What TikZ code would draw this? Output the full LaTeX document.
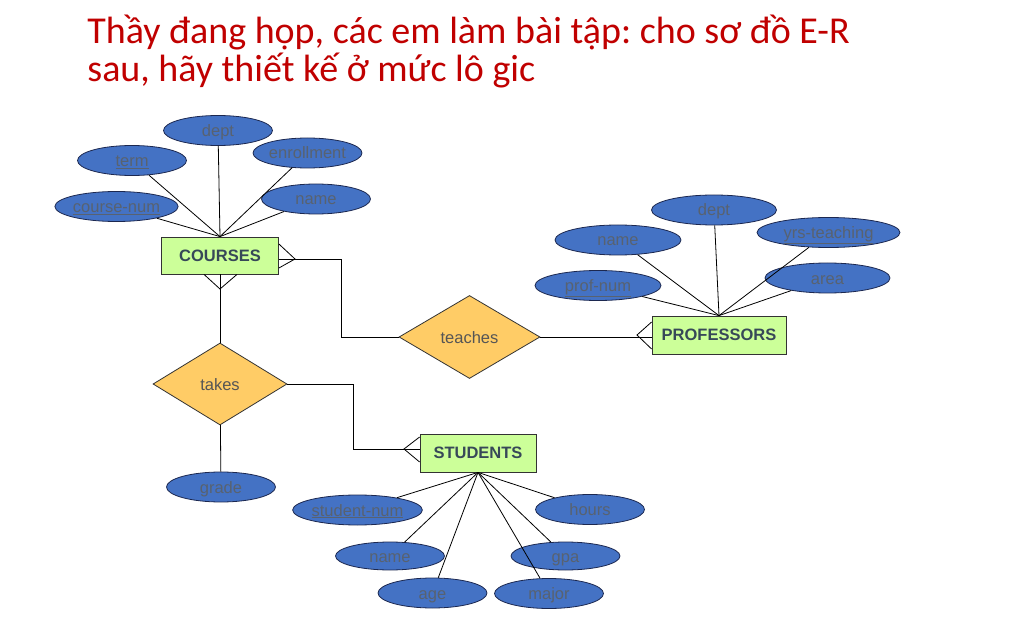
\documentclass[tikz,border=0pt]{standalone}
\usepackage{fontspec}
\setmainfont{Liberation Sans}
\newfontfamily\titlefont{Carlito}
\usetikzlibrary{shapes.geometric}
\definecolor{titlered}{RGB}{192,0,0}
\definecolor{attrblue}{RGB}{68,114,196}
\definecolor{attrline}{RGB}{28,40,80}
\definecolor{attrtext}{RGB}{88,98,112}
\definecolor{entgreen}{RGB}{204,255,153}
\definecolor{enttext}{RGB}{55,72,88}
\definecolor{relorange}{RGB}{255,204,102}
\definecolor{reltext}{RGB}{85,85,85}
\frenchspacing
\begin{document}
\begin{tikzpicture}[x=1pt, y=-1pt, line width=0.8pt,
    every node/.style={font=\fontsize{16.5}{19}\selectfont},
    attr/.style={ellipse, draw=attrline, fill=attrblue, text=attrtext, inner sep=0pt, text height=12pt, text depth=0pt, minimum width=109pt, minimum height=30pt},
    entity/.style={rectangle, draw=black!80, fill=entgreen, text=enttext, inner sep=0pt, minimum width=117pt, minimum height=37pt, font=\fontsize{16.5}{19}\selectfont\bfseries},
    rel/.style={diamond, draw=black!80, fill=relorange, text=reltext, inner sep=0pt, text height=12pt, text depth=0pt, minimum width=134pt, minimum height=82pt},
    title/.style={anchor=base west, inner sep=0pt, text=titlered, font=\titlefont\fontsize{38}{38}\selectfont}]
    \useasboundingbox (0,0) rectangle (1026,639);
    % title
    \node[title] (title1) at (87,44) {Thầy đang họp, các em làm bài tập: cho sơ đồ E-R};
    \node[title] (title2) at (87,81.5) {sau, hãy thiết kế ở mức lô gic};
    % entities and relationships
    \node[entity] (courses) at (220,255.5) {COURSES};
    \node[entity, minimum width=134pt, minimum height=38pt] (professors) at (719,335) {PROFESSORS};
    \node[entity, minimum width=116pt, minimum height=38pt] (students) at (478,453) {STUDENTS};
    \node[rel] (takes) at (220,384) {takes};
    \node[rel, minimum width=141pt, minimum height=83pt] (teaches) at (469.5,337) {teaches};
    % attributes of courses
    \node[attr] (cdept) at (218,130.5) {dept};
    \node[attr] (cterm) at (132,160.5) {\underline{term}};
    \node[attr] (cenroll) at (307.5,153) {enrollment};
    \node[attr] (cnum) at (116.5,206.5) {\underline{course-num}};
    \node[attr] (cname) at (316,199) {name};
    \foreach \a in {cdept,cterm,cenroll,cnum,cname}
        \draw (\a) -- (courses.north);
    % attributes of professors
    \node[attr, minimum width=125pt] (pdept) at (714,210) {dept};
    \node[attr, minimum width=126pt] (pname) at (618,240) {name};
    \node[attr, minimum width=143pt] (pyrs) at (828.5,232.5) {\underline{yrs-teaching}};
    \node[attr, minimum width=126pt] (pnum) at (598,285.5) {\underline{prof-num}};
    \node[attr, minimum width=125pt] (parea) at (827.5,278) {area};
    \foreach \a in {pdept,pname,pyrs,pnum,parea}
        \draw (\a) -- (professors.north);
    % attributes of students
    \node[attr, minimum width=125pt] (snum) at (357.5,510) {\underline{student-num}};
    \node[attr] (shours) at (590,509.5) {hours};
    \node[attr, minimum height=28pt] (sname) at (390,556) {name};
    \node[attr, minimum height=28pt] (sgpa) at (565.5,556) {gpa};
    \node[attr] (sage) at (432.5,593) {age};
    \node[attr] (smajor) at (549,593.5) {major};
    \foreach \a in {snum,shours,sname,sgpa,sage,smajor}
        \draw (\a) -- (students.south);
    % grade of takes
    \node[attr] (grade) at (221,487) {grade};
    \draw (takes) -- (grade);
    % courses -- takes, many side at courses
    \coordinate (cfoot1) at (220,289);
    \draw (courses.south) -- (takes.north);
    \draw ([xshift=-16pt]courses.south) -- (cfoot1) -- ([xshift=17pt]courses.south);
    % courses -- teaches, many side at courses
    \coordinate (cfoot2) at (295,259);
    \coordinate (bend1) at (341,259);
    \draw ([yshift=-3.5pt]courses.east) -- (bend1) |- (teaches.west);
    \draw ([yshift=11.5pt]courses.east) -- (cfoot2) -- ([yshift=-12.5pt]courses.east);
    % teaches -- professors, many side at professors
    \coordinate (pfoot) at (637,335);
    \draw (teaches.east) -- (teaches.east -| professors.west);
    \draw ([yshift=13pt]professors.west) -- (pfoot) -- ([yshift=-14pt]professors.west);
    % takes -- students, many side at students
    \coordinate (bend2) at (353,449);
    \coordinate (sfoot) at (404,449);
    \draw (takes.east) -| (bend2) -- ([yshift=4pt]students.west);
    \draw ([yshift=16pt]students.west) -- (sfoot) -- ([yshift=-9pt]students.west);
\end{tikzpicture}
\end{document}
